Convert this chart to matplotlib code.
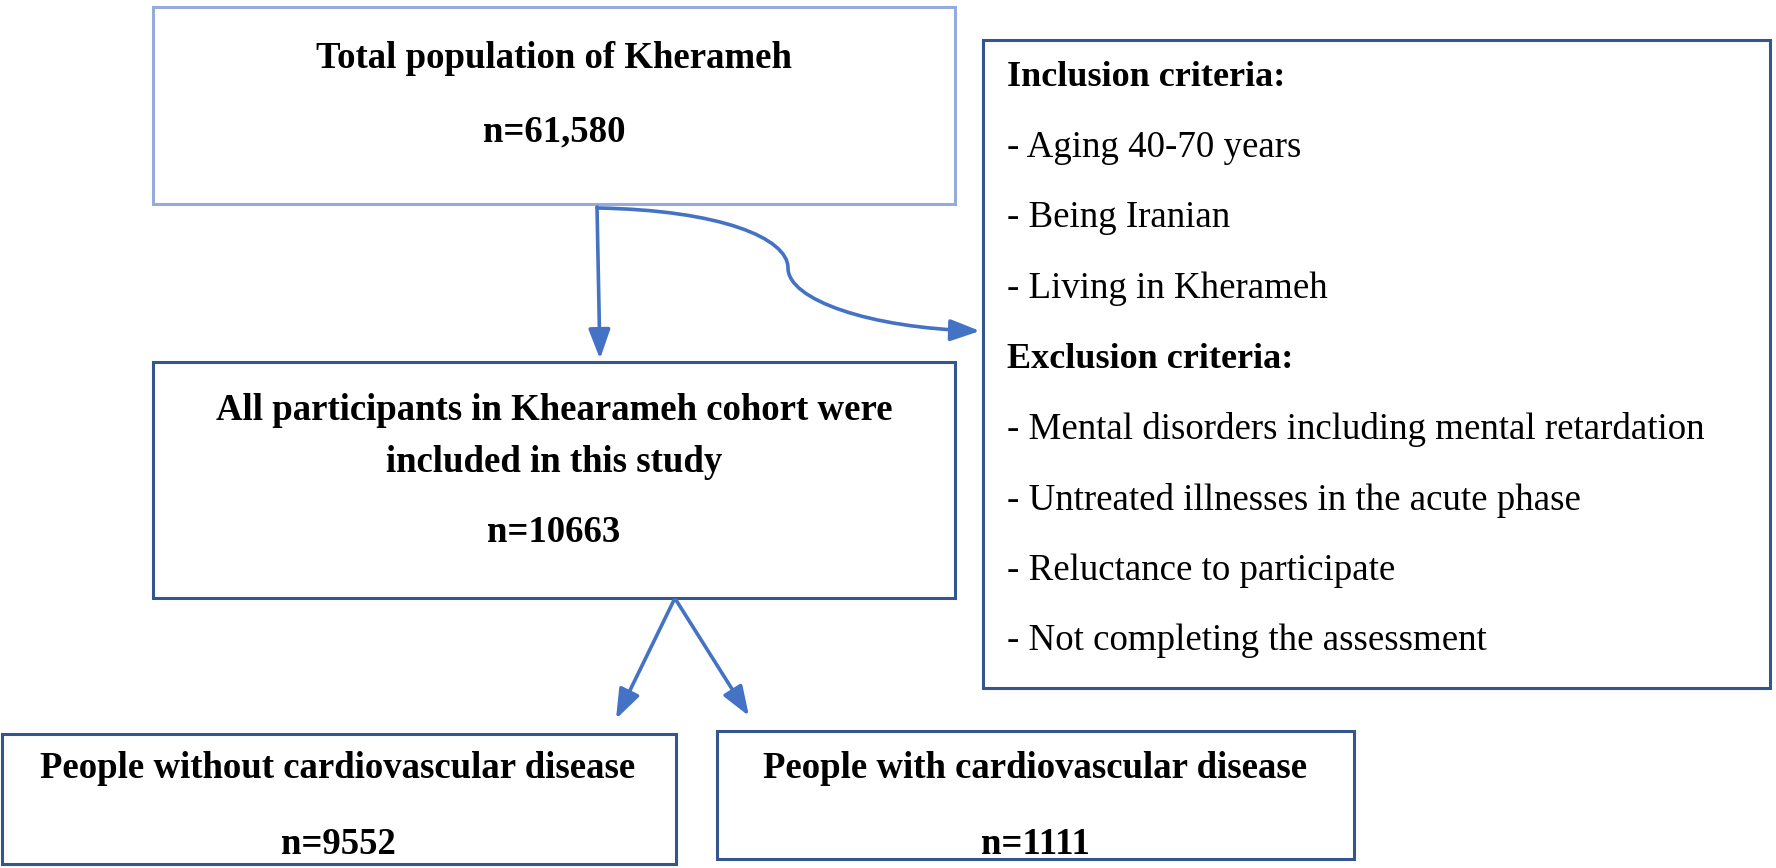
import matplotlib
matplotlib.use("Agg")
import matplotlib.pyplot as plt
from matplotlib.patches import Rectangle, FancyArrowPatch
from matplotlib.path import Path

# box texts
top_title = "Total population of Kherameh"
top_n = "n=61,580"
mid_title = ["All participants in Khearameh cohort were", "included in this study"]
mid_n = "n=10663"
left_title = "People without cardiovascular disease"
left_n = "n=9552"
right_title = "People with cardiovascular disease"
right_n = "n=1111"
criteria = [
    ("Inclusion criteria:", True),
    ("- Aging 40-70 years", False),
    ("- Being Iranian", False),
    ("- Living in Kherameh", False),
    ("Exclusion criteria:", True),
    ("- Mental disorders including mental retardation", False),
    ("- Untreated illnesses in the acute phase", False),
    ("- Reluctance to participate", False),
    ("- Not completing the assessment", False),
]

W, H = 1776, 868
DARK = "#35558f"
LIGHT = "#93acdc"
ARROW = "#4472c4"
FONT = "Liberation Serif"

fig = plt.figure(figsize=(W / 100, H / 100), dpi=100)
ax = fig.add_axes([0, 0, 1, 1])
ax.set_xlim(0, W)
ax.set_ylim(H, 0)
ax.axis("off")


def box(x0, y0, x1, y1, color):
    ax.add_patch(Rectangle((x0, y0), x1 - x0, y1 - y0, fill=False,
                           edgecolor=color, linewidth=2.2))


def txt(x, y, s, bold=True, ha="center", size=26.5):
    ax.text(x, y, s, ha=ha, va="center", fontsize=size, family=FONT,
            fontweight="bold" if bold else "normal", color="black")


# boxes
box(153, 7, 955, 204, LIGHT)
txt(554, 58, top_title)
txt(554, 132, top_n)

box(153, 362, 955, 598, DARK)
txt(554, 411, mid_title[0])
txt(554, 462, mid_title[1])
txt(554, 533, mid_n)

box(983, 40, 1770, 688, DARK)
for i, (line, bold) in enumerate(criteria):
    txt(1007, 77 + i * 70.5, line, bold=bold, ha="left", size=26 if bold else 26.6)

box(2, 734, 676, 864, DARK)
txt(338, 769, left_title)
txt(338, 845, left_n)

box(717, 731, 1354, 859, DARK)
txt(1035, 769, right_title)
txt(1035, 845, right_n)

# arrows
def arrow(p0, p1, path=None):
    kw = dict(arrowstyle="-|>,head_length=0.9,head_width=0.33", color=ARROW,
              linewidth=2.6, mutation_scale=20, shrinkA=0, shrinkB=0)
    if path is not None:
        a = FancyArrowPatch(path=path, **kw)
    else:
        a = FancyArrowPatch(p0, p1, **kw)
    ax.add_patch(a)


arrow((597, 207), (600, 359))

verts = [(597, 208), (720, 210), (788, 238), (788, 268),
         (788, 300), (870, 328), (980, 331)]
codes = [Path.MOVETO, Path.CURVE4, Path.CURVE4, Path.CURVE4,
         Path.CURVE4, Path.CURVE4, Path.CURVE4]
arrow(None, None, path=Path(verts, codes))

arrow((674, 600), (616, 719))
arrow((676, 600), (749, 716))

fig.savefig("out.png", dpi=100)
